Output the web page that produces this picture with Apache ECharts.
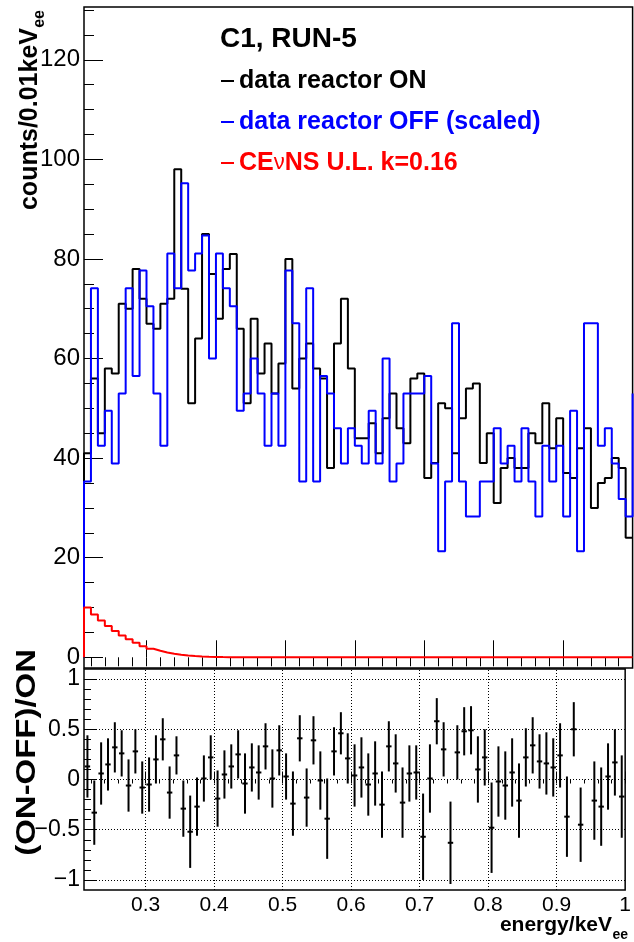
<!DOCTYPE html>
<html><head><meta charset="utf-8">
<script src="https://cdn.jsdelivr.net/npm/echarts@6/dist/echarts.min.js"></script>
<style>html,body{margin:0;padding:0;background:#fff}#c{width:634px;height:942px}</style>
</head><body><div id="c"></div>
<script>
// ---- data (bin low edges in keVee, 0.01 wide) ----
const binEdges = [0.21,0.22,0.23,0.24,0.25,0.26,0.27,0.28,0.29,0.30,0.31,0.32,0.33,0.34,0.35,0.36,0.37,0.38,0.39,0.40,
  0.41,0.42,0.43,0.44,0.45,0.46,0.47,0.48,0.49,0.50,0.51,0.52,0.53,0.54,0.55,0.56,0.57,0.58,0.59,0.60,
  0.61,0.62,0.63,0.64,0.65,0.66,0.67,0.68,0.69,0.70,0.71,0.72,0.73,0.74,0.75,0.76,0.77,0.78,0.79,0.80,
  0.81,0.82,0.83,0.84,0.85,0.86,0.87,0.88,0.89,0.90,0.91,0.92,0.93,0.94,0.95,0.96,0.97,0.98,0.99,1.00];
const onCounts = [41,56,45,58,57,71,70,78,72,67,66,71,72,98,74,51,64,85,77,68,
  78,81,66,51,68,57,63,53,59,80,54,60,63,58,56,38,63,72,58,44,
  44,47,41,48,53,46,43,56,57,36,39,51,50,41,48,54,55,39,45,31,
  38,40,38,38,45,43,51,42,48,37,36,42,46,30,35,36,40,38,24];
const offScaled = [35.3,74.1,42.5,49.5,38.9,53.0,74.1,56.5,77.7,70.5,53.0,42.5,81.1,74.1,95.2,77.7,81.1,84.7,60.0,81.1,
  74.1,70.5,49.5,53.0,60.0,53.0,42.5,53.0,42.5,77.7,67.1,35.3,74.1,35.3,56.5,53.0,46.0,38.9,46.0,42.5,
  38.9,49.5,38.9,60.0,35.3,38.9,53.0,53.0,53.0,56.5,38.9,21.3,35.3,67.1,35.3,28.3,28.3,35.3,35.3,46.0,
  38.9,42.5,35.3,46.0,35.3,28.3,42.5,35.3,42.5,28.3,49.5,21.3,67.1,67.1,42.5,46.0,38.9,31.8,28.3];
const offNextBin = 53.0;
const cevns = [10.0,8.6,7.4,6.3,5.3,4.4,3.6,2.9,2.2,1.7,1.3,0.95,0.7,0.5,0.35,0.25,0.18,0.12,0.08,0.05,
  0.03,0.02,0.01,0,0,0,0,0,0,0,0,0,0,0,0,0,0,0,0,0,
  0,0,0,0,0,0,0,0,0,0,0,0,0,0,0,0,0,0,0,0,
  0,0,0,0,0,0,0,0,0,0,0,0,0,0,0,0,0,0,0];
const ratio = [0.13,-0.33,0.06,0.15,0.32,0.26,-0.06,0.28,-0.08,-0.05,0.20,0.40,-0.13,0.24,-0.29,-0.52,-0.27,0.01,0.22,-0.19,
  0.05,0.13,0.25,-0.04,0.12,0.07,0.33,0.01,0.29,0.03,-0.24,0.41,-0.18,0.39,-0.01,-0.39,0.28,0.46,0.21,0.04,
  0.12,-0.05,0.06,-0.25,0.33,0.16,-0.23,0.06,0.07,-0.57,0.01,0.58,0.30,-0.63,0.27,0.48,0.49,0.10,0.22,-0.48,
  -0.02,-0.06,0.07,-0.21,0.22,0.34,0.18,0.16,0.12,0.24,-0.37,0.50,-0.45,null,-0.21,-0.27,0.03,0.17,-0.17];
const ratioErr = [0.31,0.32,0.31,0.26,0.25,0.23,0.26,0.22,0.26,0.27,0.24,0.21,0.26,0.19,0.28,0.36,0.29,0.23,0.22,0.28,
  0.24,0.22,0.24,0.30,0.24,0.27,0.23,0.29,0.25,0.23,0.32,0.23,0.29,0.24,0.29,0.40,0.24,0.21,0.25,0.31,
  0.30,0.31,0.32,0.33,0.25,0.29,0.35,0.28,0.27,0.43,0.34,0.23,0.27,0.41,0.27,0.24,0.24,0.33,0.28,0.45,
  0.35,0.34,0.34,0.37,0.29,0.28,0.27,0.31,0.29,0.32,0.40,0.27,0.37,null,0.39,0.39,0.33,0.33,0.41];
const xMajorTicks = [0.3,0.4,0.5,0.6,0.7,0.8,0.9,1.0];
const xMinorTicks = [0.22,0.24,0.26,0.28,0.3,0.32,0.34,0.36,0.38,0.4,0.42,0.44,0.46,0.48,0.5,0.52,0.54,0.56,0.58,0.6,
  0.62,0.64,0.66,0.68,0.7,0.72,0.74,0.76,0.78,0.8,0.82,0.84,0.86,0.88,0.9,0.92,0.94,0.96,0.98,1.0];
const yTopMajor = [0,20,40,60,80,100,120];
const yTopMinor = [0,5,10,15,20,25,30,35,40,45,50,55,60,65,70,75,80,85,90,95,100,105,110,115,120,125,130];
const yBotMajor = [-1,-0.5,0,0.5,1];
const yBotMinor = [-1,-0.9,-0.8,-0.7,-0.6,-0.5,-0.4,-0.3,-0.2,-0.1,0,0.1,0.2,0.3,0.4,0.5,0.6,0.7,0.8,0.9,1];
const legendNames = ['data reactor ON','data reactor OFF (scaled)','CEνNS U.L. k=0.16'];

// ---- build step outlines ----
function stepData(vals, startZero, nextVal) {
  const pts = [];
  if (startZero) pts.push([binEdges[0], 0]);
  for (let i = 0; i < vals.length; i++) pts.push([binEdges[i], vals[i]]);
  pts.push([binEdges[vals.length], vals[vals.length - 1]]);
  if (nextVal !== undefined) pts.push([binEdges[vals.length], nextVal]);
  return pts;
}
const ratioData = [];
for (let i = 0; i < ratio.length; i++) {
  if (ratio[i] === null) continue;
  ratioData.push([(binEdges[i] + binEdges[i + 1]) / 2, ratio[i], ratioErr[i]]);
}

const F = 'Liberation Sans, Arial, Helvetica, sans-serif';
const fmt = v => String(+v.toFixed(2)).replace('-', '\u2212');
const chart = echarts.init(document.getElementById('c'), null, {renderer: 'canvas'});
const GL = 84, GW = 548.6;
const xBase = {type: 'value', min: 0.21, max: 1.0, splitLine: {show: false}, axisLine: {show: false}};
const tick = (vals, len) => ({show: true, inside: true, length: len, customValues: vals, lineStyle: {color: '#000', width: 1}});

const option = {
  animation: false,
  backgroundColor: '#fff',
  title: {text: 'C1, RUN-5', left: 215, top: 20, textStyle: {fontFamily: F, fontWeight: 'bold', fontSize: 28, color: '#000'}},
  legend: {
    orient: 'vertical', left: 216, top: 61, itemGap: 11, selectedMode: false,
    icon: 'rect', itemWidth: 13, itemHeight: 2,
    textStyle: {fontFamily: F, fontWeight: 'bold', fontSize: 25, lineHeight: 30,
      rich: {nu: {fontFamily: F, fontWeight: 'normal', fontSize: 22, color: '#ff0000'}}},
    formatter: n => n.replace('ν', '{nu|ν}'),
    data: [
      {name: legendNames[0], textStyle: {color: '#000'}, itemStyle: {color: '#000'}},
      {name: legendNames[1], textStyle: {color: '#0000ff'}, itemStyle: {color: '#0000ff'}},
      {name: legendNames[2], textStyle: {color: '#ff0000'}, itemStyle: {color: '#ff0000'}}
    ]
  },
  grid: [
    {left: GL, top: 7, width: GW, height: 661, show: true, borderColor: '#000', borderWidth: 1.5, backgroundColor: 'transparent'},
    {left: GL, top: 669, width: GW, height: 221, show: true, borderColor: '#000', borderWidth: 1.5, backgroundColor: 'transparent'}
  ],
  xAxis: [
    Object.assign({gridIndex: 0, axisTick: tick(xMajorTicks, 17), axisLabel: {show: false}}, xBase),
    Object.assign({gridIndex: 0, axisTick: tick(xMinorTicks, 9), axisLabel: {show: false}}, xBase),
    Object.assign({gridIndex: 1, axisTick: tick(xMajorTicks, 8),
      axisLabel: {show: true, customValues: xMajorTicks, formatter: fmt, margin: 5, fontFamily: F, fontSize: 21, color: '#000'}}, xBase),
    Object.assign({gridIndex: 1, axisTick: tick(xMinorTicks, 4), axisLabel: {show: false}}, xBase)
  ],
  yAxis: [
    {gridIndex: 0, type: 'value', min: -2.15, max: 130.6, position: 'left', splitLine: {show: false}, axisLine: {show: false},
      axisTick: tick(yTopMajor, 19),
      axisLabel: {show: true, customValues: yTopMajor, margin: 4, fontFamily: F, fontSize: 24, color: '#000'}},
    {gridIndex: 0, type: 'value', min: -2.15, max: 130.6, position: 'left', splitLine: {show: false}, axisLine: {show: false},
      axisTick: tick(yTopMinor, 10), axisLabel: {show: false}},
    {gridIndex: 1, type: 'value', min: -1.1, max: 1.1, position: 'left', splitLine: {show: false}, axisLine: {show: false},
      axisTick: tick(yBotMajor, 13),
      axisLabel: {show: true, customValues: yBotMajor, formatter: fmt, margin: 4, fontFamily: F, fontSize: 23, color: '#000'}},
    {gridIndex: 1, type: 'value', min: -1.1, max: 1.1, position: 'left', splitLine: {show: false}, axisLine: {show: false},
      axisTick: tick(yBotMinor, 7), axisLabel: {show: false}}
  ],
  series: [
    {name: legendNames[0], type: 'line', xAxisIndex: 0, yAxisIndex: 0, step: 'end', symbol: 'none',
      data: stepData(onCounts, true), lineStyle: {color: '#000', width: 2}, itemStyle: {color: '#000'}, clip: true},
    {name: legendNames[1], type: 'line', xAxisIndex: 0, yAxisIndex: 0, step: 'end', symbol: 'none',
      data: stepData(offScaled, true, offNextBin), lineStyle: {color: '#0000ff', width: 2}, itemStyle: {color: '#0000ff'}, clip: true},
    {name: legendNames[2], type: 'line', xAxisIndex: 0, yAxisIndex: 0, step: 'end', symbol: 'none',
      data: stepData(cevns, true), lineStyle: {color: '#ff0000', width: 2}, itemStyle: {color: '#ff0000'}, clip: true},
    {name: 'grid', type: 'line', xAxisIndex: 2, yAxisIndex: 2, data: [], silent: true,
      markLine: {silent: true, symbol: 'none', label: {show: false}, lineStyle: {color: '#000', width: 1, type: [1, 2]},
        data: xMajorTicks.slice(0, -1).map(v => ({xAxis: v})).concat(yBotMajor.map(v => ({yAxis: v})))}},
    {name: 'ratio', type: 'custom', xAxisIndex: 2, yAxisIndex: 2, data: ratioData, clip: true,
      renderItem: (params, api) => {
        const x = api.value(0), v = api.value(1), e = api.value(2);
        const c = api.coord([x, v]), t = api.coord([x, v + e]), b = api.coord([x, v - e]);
        return {type: 'group', children: [
          {type: 'line', shape: {x1: c[0], y1: t[1], x2: c[0], y2: b[1]}, style: {stroke: '#000', lineWidth: 2}},
          {type: 'line', shape: {x1: c[0] - 2.7, y1: c[1], x2: c[0] + 2.7, y2: c[1]}, style: {stroke: '#000', lineWidth: 2}}
        ]};
      }}
  ],
  graphic: [
    {type: 'text', x: 30, y: 28, rotation: Math.PI / 2, style: {text: 'counts/0.01keV', fontFamily: F, fontWeight: 'bold', fontSize: 25, fill: '#000', align: 'right', verticalAlign: 'middle'}},
    {type: 'text', x: 40, y: 10, rotation: Math.PI / 2, style: {text: 'ee', fontFamily: F, fontWeight: 'bold', fontSize: 16, fill: '#000', align: 'right', verticalAlign: 'middle'}},
    {type: 'text', x: 28, y: 649, rotation: Math.PI / 2, scaleX: 1.22, style: {text: '(ON-OFF)/ON', fontFamily: F, fontWeight: 'bold', fontSize: 27, fill: '#000', align: 'right', verticalAlign: 'middle'}},
    {type: 'text', x: 612, y: 925, style: {text: 'energy/keV', fontFamily: F, fontWeight: 'bold', fontSize: 21, fill: '#000', align: 'right', verticalAlign: 'middle'}},
    {type: 'text', x: 628, y: 935, style: {text: 'ee', fontFamily: F, fontWeight: 'bold', fontSize: 14, fill: '#000', align: 'right', verticalAlign: 'middle'}}
  ]
};
chart.setOption(option);
</script></body></html>
